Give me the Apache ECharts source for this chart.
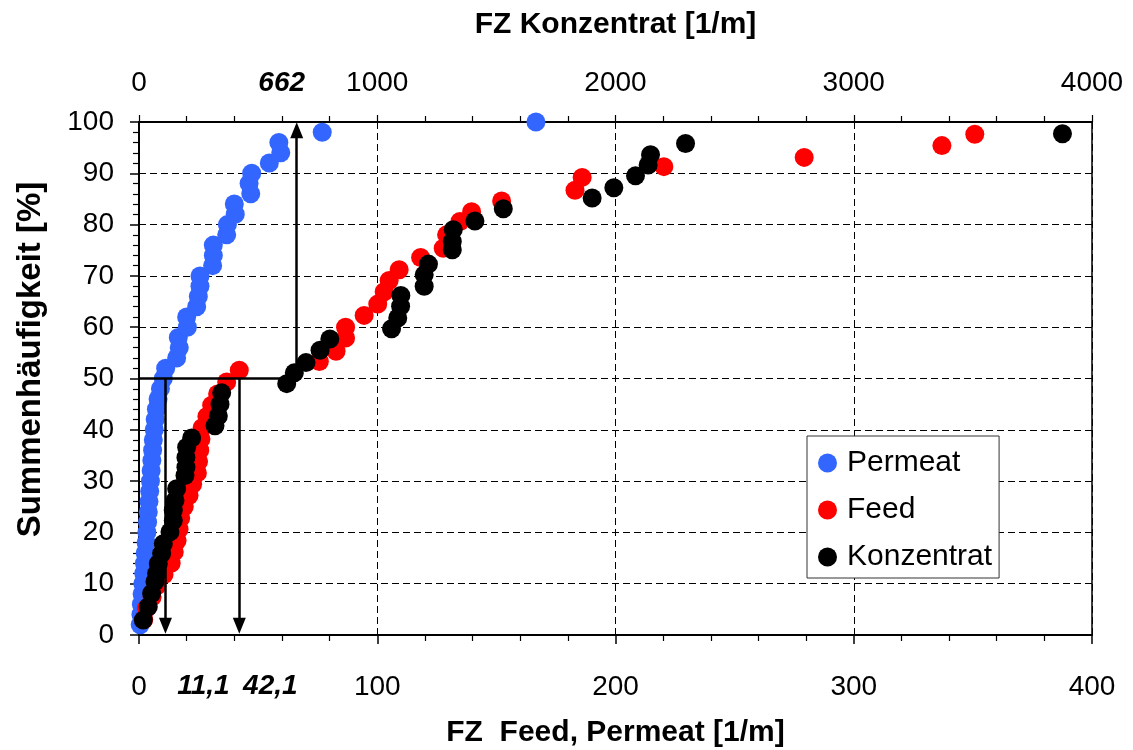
<!DOCTYPE html>
<html>
<head>
<meta charset="utf-8">
<script src="https://cdn.jsdelivr.net/npm/echarts@6/dist/echarts.min.js"></script>
<style>
  html, body { margin: 0; padding: 0; background: #fff; }
  #chart { width: 1133px; height: 750px; }
</style>
</head>
<body>
<div id="chart"></div>
<script>
// Cumulative frequency [%] of the measured values
const permeatY = [2,4,6,8,10,12,14,16,18,20,22,24,26,28,30,32,34,36,38,40,42,44,46,48,50,
                  52,54,56,58,60,62,64,66,68,70,72,74,76,78,80,82,84,86,88,90,92,94,96,98,100];
const permeatX = [0.5,0.8,1.0,1.3,1.6,2.0,2.3,2.6,3.0,3.3,3.6,3.9,4.2,4.5,4.8,5.1,5.4,5.7,6.0,6.4,
                  6.8,7.3,8.0,9.0,10.2,11.2,15.8,16.9,16.5,20.3,20.0,24.2,24.9,25.6,25.6,30.9,31.2,31.2,
                  36.8,37.1,40.4,40.0,46.9,46.2,47.3,54.7,59.5,58.7,76.9,166.6];

const feedY = [3.0,5.2,7.4,9.6,11.8,14.0,16.2,18.4,20.6,22.8,25.0,27.2,29.4,31.6,33.8,36.0,38.2,40.4,
               42.6,44.8,47.0,49.3,51.6,53.3,55.3,57.9,60.0,62.3,64.5,66.9,69.1,71.2,73.6,75.4,78.0,
               80.6,82.5,84.6,86.7,89.2,91.3,93.1,95.4,97.6];
const feedX = [2.0,3.2,5.5,7.5,10.5,13.5,14.8,16.0,16.8,17.5,19.0,21.0,22.5,24.5,25.0,25.5,26.0,26.5,
               28.5,30.5,33.0,36.8,42.1,75.7,82.7,86.7,86.7,94.5,100.2,102.9,105.0,109.2,118.2,127.7,
               129.1,134.7,139.6,152.2,183.0,186.0,220.3,279.2,337.0,350.8];

const konzY = [2.9,5.5,8.1,10.4,12.0,13.9,15.9,17.8,20.1,22.3,24.3,26.2,28.5,31.1,32.7,34.6,36.6,38.4,
               40.8,42.7,45.0,47.2,49.0,51.1,53.1,55.5,57.7,59.7,61.8,64.1,66.2,68.0,70.2,72.3,75.1,
               76.7,79.0,80.7,83.1,85.2,87.2,89.5,91.6,93.6,95.8,97.7];
const konzX = [18,39,53,67,74,81,95,102,130,144,144,151,158,193,197,197,200,221,319,333,340,347,620,
               652,701,760,801,1060,1086,1098,1099,1197,1197,1215,1315,1315,1319,1410,1529,1902,1993,
               2084,2137,2147,2294,3876];

// Medians (50 %)
const medianPermeat = 11.1;
const medianFeed = 42.1;
const medianKonz = 662;

// Axis ranges
const bottomAxis = { min: 0, max: 400, step: 100 };
const topAxis = { min: 0, max: 4000, step: 1000 };
const yRange = { min: 0, max: 100, step: 10 };

const FONT = '"Liberation Sans", Arial, sans-serif';

function pairs(xs, ys) { return xs.map((x, i) => [x, ys[i]]); }

const chart = echarts.init(document.getElementById('chart'), null, { renderer: 'canvas' });

const arrowLine = { color: '#000', width: 2.5, type: 'solid' };
const noLabel = { show: false };
const ARROW = [13, 16];

// Line from a start point to an arrow tip
function arrow(from, to) {
  return [
    { coord: from, symbol: 'none' },
    { coord: to, symbol: 'triangle', symbolSize: ARROW }
  ];
}

const annoLabel = { show: true, fontFamily: FONT, fontSize: 28, fontWeight: 'bold', fontStyle: 'italic', color: '#000' };

const option = {
  animation: false,
  backgroundColor: '#fff',
  textStyle: { fontFamily: FONT },
  grid: {
    left: 139, right: 41, top: 122, bottom: 115,
    outerBoundsMode: 'none', containLabel: false,
    show: true, borderColor: '#000', borderWidth: 1.5, backgroundColor: 'transparent'
  },
  legend: {
    orient: 'vertical',
    left: 807, top: 436,
    backgroundColor: '#fff',
    borderColor: '#333', borderWidth: 1,
    padding: [12, 7, 6, 11],
    itemGap: 17,
    itemWidth: 19, itemHeight: 19,
    icon: 'circle',
    textStyle: { fontFamily: FONT, fontSize: 30, color: '#000', lineHeight: 28, padding: [0, 0, 0, 5] },
    data: ['Permeat', 'Feed', 'Konzentrat']
  },
  xAxis: [
    {
      type: 'value', position: 'bottom',
      min: bottomAxis.min, max: bottomAxis.max, interval: bottomAxis.step,
      name: 'FZ  Feed, Permeat [1/m]', nameLocation: 'middle', nameGap: 83,
      nameTextStyle: { fontFamily: FONT, fontSize: 30, fontWeight: 'bold', color: '#000' },
      axisLine: { show: true, onZero: false, lineStyle: { color: '#000', width: 2 } },
      axisTick: { show: true, inside: false, length: 9, lineStyle: { color: '#000', width: 1.5 } },
      minorTick: { show: true, splitNumber: 5, length: 6, lineStyle: { color: '#000', width: 1.2 } },
      axisLabel: { fontFamily: FONT, fontSize: 28, color: '#000', margin: 38 },
      splitLine: { show: true, lineStyle: { color: '#000', width: 1, type: [7, 4] } }
    },
    {
      type: 'value', position: 'top',
      min: topAxis.min, max: topAxis.max, interval: topAxis.step,
      name: 'FZ Konzentrat [1/m]', nameLocation: 'middle', nameGap: 82,
      nameTextStyle: { fontFamily: FONT, fontSize: 30, fontWeight: 'bold', color: '#000' },
      axisLine: { show: true, onZero: false, lineStyle: { color: '#000', width: 2 } },
      axisTick: { show: true, inside: false, length: 7, lineStyle: { color: '#000', width: 1.2 } },
      minorTick: { show: true, splitNumber: 5, length: 6, lineStyle: { color: '#000', width: 1.2 } },
      axisLabel: { fontFamily: FONT, fontSize: 28, color: '#000', margin: 25, formatter: v => String(v) },
      splitLine: { show: false }
    }
  ],
  yAxis: {
    type: 'value', min: yRange.min, max: yRange.max, interval: yRange.step,
    name: 'Summenhäufigkeit [%]', nameLocation: 'middle', nameGap: 92, nameRotate: 90,
    nameTextStyle: { fontFamily: FONT, fontSize: 33, fontWeight: 'bold', color: '#000', padding: [0, 0, 0, 38] },
    axisLine: { show: true, onZero: false, lineStyle: { color: '#000', width: 2 } },
    axisTick: { show: true, inside: false, length: 9, lineStyle: { color: '#000', width: 1.5 } },
    minorTick: { show: true, splitNumber: 5, length: 6, lineStyle: { color: '#000', width: 1.2 } },
    axisLabel: { fontFamily: FONT, fontSize: 28, color: '#000', margin: 25 },
    splitLine: { show: true, lineStyle: { color: '#000', width: 1, type: [7, 4] } }
  },
  series: [
    {
      name: 'Permeat', type: 'scatter', xAxisIndex: 0,
      symbol: 'circle', symbolSize: 19,
      itemStyle: { color: '#3366ff', opacity: 1 },
      data: pairs(permeatX, permeatY),
      z: 3
    },
    {
      name: 'Feed', type: 'scatter', xAxisIndex: 0,
      symbol: 'circle', symbolSize: 19,
      itemStyle: { color: '#ff0000', opacity: 1 },
      data: pairs(feedX, feedY),
      z: 4,
      markLine: {
        silent: true, symbol: ['none', 'none'],
        lineStyle: arrowLine, label: noLabel, emphasis: { disabled: true },
        data: [
          arrow([medianPermeat, 50], [medianPermeat, 1.8]),
          arrow([medianFeed, 50], [medianFeed, 1.8])
        ]
      },
      markPoint: {
        silent: true, symbol: 'circle', symbolSize: 0,
        label: annoLabel,
        data: [
          { coord: [medianPermeat, 0], value: '11,1', label: { formatter: '11,1', offset: [38, 51] } },
          { coord: [medianFeed, 0], value: '42,1', label: { formatter: '42,1', offset: [31, 51] } }
        ]
      }
    },
    {
      name: 'Konzentrat', type: 'scatter', xAxisIndex: 1,
      symbol: 'circle', symbolSize: 19,
      itemStyle: { color: '#000000', opacity: 1 },
      data: pairs(konzX, konzY),
      z: 5,
      markLine: {
        silent: true, symbol: ['none', 'none'],
        lineStyle: arrowLine, label: noLabel, emphasis: { disabled: true },
        data: [
          [{ coord: [0, 50], symbol: 'none' }, { coord: [medianKonz, 50], symbol: 'none' }],
          arrow([medianKonz, 50], [medianKonz, 98.4])
        ]
      },
      markPoint: {
        silent: true, symbol: 'circle', symbolSize: 0,
        label: annoLabel,
        data: [
          { coord: [medianKonz, 100], value: '662', label: { formatter: '662', offset: [-15, -39] } }
        ]
      }
    }
  ]
};

chart.setOption(option);
</script>
</body>
</html>
